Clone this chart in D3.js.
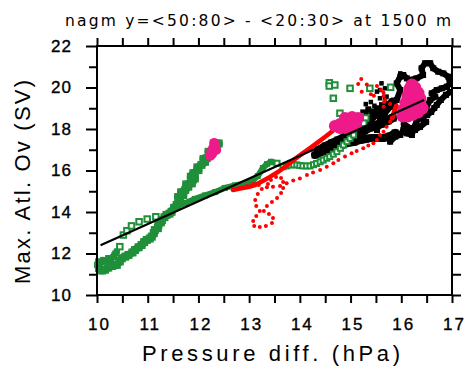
<!DOCTYPE html>
<html><head><meta charset="utf-8">
<script src="https://cdn.jsdelivr.net/npm/d3@7"></script>
<style>body{margin:0;background:#fff} svg{display:block}</style>
</head><body>
<svg id="chart" width="467" height="367"></svg>
<script>
// ---- labels and ticks ----
const titleText = "nagm y=<50:80> - <20:30> at 1500 m";
const xLabel = "Pressure diff. (hPa)";
const yLabel = "Max. Atl. Ov (SV)";
const xMajor = [10, 11, 12, 13, 14, 15, 16, 17];
const xMinor = [10.5, 11.5, 12.5, 13.5, 14.5, 15.5, 16.5];
const yMajor = [10, 12, 14, 16, 18, 20, 22];
const yMinor = [11, 13, 15, 17, 19, 21];

// ---- data: [pressure diff (hPa), max Atl. overturning (Sv)] ----
const greenStart = [[10.00,11.45],[10.02,11.62],[10.08,11.58],[10.12,11.69],[10.18,11.62],[10.22,11.78],[10.28,11.70],[10.32,11.83],[10.34,11.92],[10.36,12.00],[10.39,12.10]];
const greenTrailA = [[10.04,11.30],[10.10,11.18],[10.16,11.22],[10.22,11.32],[10.30,11.40],[10.39,11.45],[10.45,11.62],[10.49,11.77],[10.56,11.85],[10.62,11.93],[10.70,12.05],[10.75,12.17],[10.82,12.30],[10.88,12.41],[10.93,12.55],[10.98,12.65],[11.04,12.72],[11.08,12.81],[11.12,12.98],[11.14,13.13],[11.20,13.22],[11.21,13.37],[11.26,13.50],[11.28,13.61],[11.33,13.75],[11.37,13.86],[11.43,13.92],[11.47,14.01],[11.52,14.20],[11.57,14.34],[11.62,14.45],[11.64,14.58],[11.60,14.72],[11.70,14.82],[11.66,14.95],[11.74,15.06],[11.80,15.22],[11.76,15.33],[11.87,15.38],[11.93,15.62],[11.85,15.70],[11.90,15.87],[12.00,16.02],[11.98,16.15],[12.06,16.27],[12.13,16.42],[12.10,16.55],[12.16,16.59],[12.23,16.75],[12.20,16.90],[12.29,16.99],[12.36,17.23],[12.40,17.30]];
const greenTrailB = [[11.37,13.86],[11.54,14.24],[11.74,14.43],[11.93,14.63],[12.13,14.80],[12.33,14.96],[12.52,15.16],[12.72,15.28],[12.92,15.37],[13.08,15.54],[13.17,15.73],[13.27,16.12],[13.35,16.31],[13.43,16.42],[13.55,16.35]];
const greenTrailC = [[13.55,16.35],[13.67,16.18],[13.74,16.22],[13.81,16.27],[13.88,16.27],[13.94,16.27],[14.00,16.24],[14.06,16.22],[14.13,16.22],[14.20,16.22],[14.27,16.28],[14.33,16.34],[14.40,16.42],[14.46,16.50],[14.53,16.59],[14.59,16.67],[14.66,16.79],[14.73,16.91],[14.80,17.07],[14.86,17.23],[14.93,17.39],[14.99,17.55],[15.06,17.71]];
const greenSparse = [[10.45,12.33],[10.52,12.89],[10.59,13.10],[10.68,13.33],[10.83,13.53],[10.99,13.66],[11.16,13.77],[14.58,20.23],[14.58,20.07],[14.69,20.12],[14.99,19.96],[14.66,19.48],[14.79,18.76],[15.19,18.59],[15.23,18.39],[15.30,18.53],[15.26,18.28],[15.38,19.96],[15.79,20.01]];

const redLoop = [[12.82,15.16],[12.96,15.25],[13.08,15.35],[13.19,15.30],[13.25,15.11],[13.17,14.87],[13.12,14.58],[13.14,14.29],[13.21,14.05],[13.14,13.81],[13.08,13.57],[13.10,13.33],[13.21,13.28],[13.33,13.33],[13.45,13.47],[13.47,13.71],[13.39,13.90],[13.29,14.05],[13.35,14.29],[13.45,14.48],[13.55,14.67],[13.63,14.92],[13.67,15.16],[13.67,15.45],[13.63,15.64],[13.53,15.69],[13.43,15.54],[13.37,15.35]];
const redDotted = [[13.35,15.19],[13.47,15.22],[13.61,15.25],[13.74,15.38],[13.87,15.52],[14.00,15.62],[14.14,15.78],[14.26,15.90],[14.40,16.02],[14.53,16.18],[14.66,16.35],[14.76,16.51],[14.89,16.67],[15.02,16.83],[15.12,16.94],[15.25,17.07],[15.35,17.20],[15.45,17.31],[15.52,17.47],[15.58,17.71],[15.65,17.87],[15.71,18.11],[15.78,18.35],[15.84,18.59],[15.88,18.83],[15.91,19.07],[15.78,19.20],[15.66,19.30],[15.65,19.59],[15.60,19.88],[15.52,20.07]];
const redSparse = [[15.21,20.41],[15.15,20.17],[15.32,20.15],[15.22,19.80],[15.40,19.67],[15.46,19.60],[15.65,19.75],[15.68,19.40],[15.65,19.07]];
const redThick = [[12.68,15.06],[12.82,15.13],[12.98,15.20],[13.12,15.30],[13.25,15.47],[13.41,15.69],[13.57,15.93],[13.73,16.22],[13.88,16.51],[14.04,16.80],[14.20,17.08],[14.36,17.37],[14.52,17.66],[14.67,17.95]];
const redThickTop = [[15.82,18.53],[15.86,18.82],[15.90,19.11]];

const blackLower = [[14.30,16.75],[14.44,16.89],[14.59,16.99],[14.71,17.13],[14.83,17.23],[14.95,17.33],[15.07,17.37],[15.19,17.47],[15.30,17.52],[15.42,17.57],[15.54,17.57],[15.66,17.57],[15.78,17.66],[15.88,17.81]];
const blackMiddle = [[14.62,17.10],[14.76,17.30],[14.89,17.47],[15.03,17.61],[15.15,17.76],[15.27,17.90],[15.38,18.05],[15.50,18.14],[15.62,18.24],[15.74,18.39],[15.84,18.53]];
const blackUpper = [[14.36,16.99],[14.50,17.18],[14.63,17.33],[14.75,17.47],[14.87,17.61],[14.99,17.81],[15.09,18.05],[15.19,18.19],[15.30,18.34],[15.40,18.48],[15.48,18.67],[15.56,18.82],[15.66,18.92],[15.74,19.11],[15.82,19.30]];
const blackCloud = [[15.05,18.35],[15.18,18.55],[15.30,18.70],[15.42,18.85],[15.52,19.00],[15.62,19.15],[15.35,18.95],[15.25,18.80]];
const blackLoop = [[15.52,17.95],[15.58,18.43],[15.68,18.76],[15.78,19.07],[15.91,19.40],[15.98,19.88],[15.91,20.20],[15.98,20.52],[16.04,20.60],[16.11,20.44],[16.17,20.36],[16.30,20.44],[16.43,20.60],[16.40,20.93],[16.47,21.17],[16.57,21.17],[16.63,20.93],[16.73,20.76],[16.83,20.68],[16.93,20.52],[16.96,20.20],[16.90,20.04],[16.80,19.96],[16.70,19.88],[16.60,19.72],[16.67,19.56],[16.57,19.40],[16.50,19.07],[16.43,18.92],[16.37,18.67],[16.30,18.35],[16.24,18.03],[16.21,17.71],[16.11,17.79],[16.04,17.95],[15.98,17.71],[15.88,17.63],[15.78,17.39]];
const blackTail = [[16.05,18.24],[16.17,18.05],[16.27,17.95],[16.37,18.10],[16.49,18.34],[16.37,18.53],[16.51,18.67],[16.59,18.82],[16.65,19.01],[16.70,19.16],[16.78,19.40],[16.88,19.64],[16.96,19.78]];
const blackSparse = [[15.61,20.20],[15.68,19.96],[15.58,19.88],[15.68,19.48],[15.58,19.48],[15.74,19.24],[15.84,19.40],[15.52,19.80],[15.71,19.56],[15.94,20.36],[15.98,20.68],[15.40,19.30],[15.47,19.12],[15.30,19.20]];

const magentaA = [[12.23,16.70],[12.25,16.89],[12.29,17.08],[12.33,17.23],[12.35,16.99],[12.27,16.80],[12.31,17.33]];
const magentaB = [[14.69,18.14],[14.79,18.24],[14.89,18.34],[14.99,18.39],[15.09,18.43],[15.15,18.53],[14.89,18.53],[14.99,18.10],[15.09,18.14],[14.89,18.05],[14.79,18.05],[15.03,18.58]];
const magentaC = [[16.03,18.63],[16.13,18.63],[16.23,18.72],[16.33,18.82],[16.41,19.01],[16.05,18.92],[16.15,18.96],[16.25,19.01],[16.35,19.16],[16.09,19.25],[16.19,19.30],[16.29,19.40],[16.37,19.45],[16.13,19.59],[16.23,19.64],[16.33,19.73],[16.17,19.93],[16.27,19.98],[16.21,20.12]];

// least-squares fit line end points
const fitX = [10.07, 16.45];
const fitY = [12.40, 19.40];

// ---- layout ----
const svg = d3.select("#chart");
const x = d3.scaleLinear().domain([10, 17]).range([97, 452]);
const y = d3.scaleLinear().domain([10, 22]).range([295, 46]);
const FONT = "'DejaVu Sans', 'Liberation Sans', sans-serif";
const NUMFONT = "'Liberation Sans', Arial, sans-serif";

const GREEN = "#1f8f3a", RED = "#ff0000", MAGENTA = "#ee1a8a", BLACK = "#000";
const line = d3.line().x(d => x(d[0])).y(d => y(d[1]));

function trail(data, color, width) {
  svg.append("path").datum(data).attr("d", line)
    .attr("fill", "none").attr("stroke", color).attr("stroke-width", width)
    .attr("stroke-linejoin", "round").attr("stroke-linecap", "round");
}
function squares(data, color, size, hollow) {
  svg.append("g").selectAll("rect").data(data).join("rect")
    .attr("x", d => x(d[0]) - size / 2).attr("y", d => y(d[1]) - size / 2)
    .attr("width", size).attr("height", size)
    .attr("fill", hollow ? "#fff" : color)
    .attr("stroke", hollow ? color : "none").attr("stroke-width", hollow ? 2 : 0);
}
function dots(data, color, r) {
  svg.append("g").selectAll("circle").data(data).join("circle")
    .attr("cx", d => x(d[0])).attr("cy", d => y(d[1])).attr("r", r).attr("fill", color);
}

// black cloud
[blackLower, blackMiddle, blackUpper].forEach(s => { trail(s, BLACK, 8); squares(s, BLACK, 7); });
[blackLoop, blackTail].forEach(s => { trail(s, BLACK, 6); squares(s, BLACK, 6); });
squares(blackCloud, BLACK, 6);
squares(blackSparse, BLACK, 4.5);

// green trails
trail(greenStart, GREEN, 6); squares(greenStart, GREEN, 6);
trail(greenTrailA, GREEN, 8); squares(greenTrailA, GREEN, 8);
trail(greenTrailB, GREEN, 6); squares(greenTrailB, GREEN, 6);
squares(greenTrailC, GREEN, 5, true);
squares(greenSparse, GREEN, 5.5, true);

// red
trail(redThick, RED, 4.5);
trail(redThickTop, RED, 5);
dots(redLoop, RED, 2);
dots(redDotted, RED, 2);
dots(redSparse, RED, 2);

// magenta blobs
dots(magentaA, MAGENTA, 5);
dots(magentaB, MAGENTA, 6);
dots(magentaC, MAGENTA, 6.5);

// fit line
svg.append("line")
  .attr("x1", x(fitX[0])).attr("y1", y(fitY[0]))
  .attr("x2", x(fitX[1])).attr("y2", y(fitY[1]))
  .attr("stroke", BLACK).attr("stroke-width", 2.2);

// ---- axes ----
function styleAxis(g) {
  g.select(".domain").remove();
  g.selectAll(".tick line").attr("stroke", BLACK).attr("stroke-width", 2);
  g.selectAll(".tick text").attr("font-family", NUMFONT).attr("font-size", 17)
    .attr("fill", BLACK).attr("stroke", BLACK).attr("stroke-width", 0.35);
}
svg.append("g").attr("transform", "translate(0,295)")
  .call(d3.axisBottom(x).tickValues(xMajor.concat(xMinor)).tickSize(8).tickPadding(15)
    .tickFormat(d => xMajor.includes(d) ? d : ""))
  .call(styleAxis)
  .call(g => g.selectAll(".tick text").attr("letter-spacing", 2).attr("dx", 2));
svg.append("g").attr("transform", "translate(0,46)")
  .call(d3.axisTop(x).tickValues(xMajor.concat(xMinor)).tickSize(8).tickFormat(""))
  .call(styleAxis);
svg.append("g").attr("transform", "translate(97,0)")
  .call(d3.axisLeft(y).tickValues(yMajor).tickSize(11).tickPadding(14))
  .call(styleAxis)
  .call(g => g.selectAll(".tick text").attr("letter-spacing", 1));
svg.append("g").attr("transform", "translate(97,0)")
  .call(d3.axisLeft(y).tickValues(yMinor).tickSize(8).tickFormat(""))
  .call(styleAxis);
svg.append("g").attr("transform", "translate(452,0)")
  .call(d3.axisRight(y).tickValues(yMajor.concat(yMinor)).tickSize(9).tickFormat(""))
  .call(styleAxis);

// frame
svg.append("rect").attr("x", 97).attr("y", 46).attr("width", 355).attr("height", 249)
  .attr("fill", "none").attr("stroke", BLACK).attr("stroke-width", 2);

// ---- texts ----
svg.append("text").attr("x", 258).attr("y", 26).attr("text-anchor", "middle")
  .attr("font-family", FONT).attr("font-size", 15.5)
  .attr("textLength", 386).attr("lengthAdjust", "spacing").text(titleText);
svg.append("text").attr("x", 271).attr("y", 361).attr("text-anchor", "middle")
  .attr("font-family", NUMFONT).attr("font-size", 22)
  .attr("textLength", 258).attr("lengthAdjust", "spacing").text(xLabel);
svg.append("text").attr("transform", "translate(30,182) rotate(-90)").attr("text-anchor", "middle")
  .attr("font-family", NUMFONT).attr("font-size", 22)
  .attr("textLength", 204).attr("lengthAdjust", "spacing").text(yLabel);
</script>
</body></html>
